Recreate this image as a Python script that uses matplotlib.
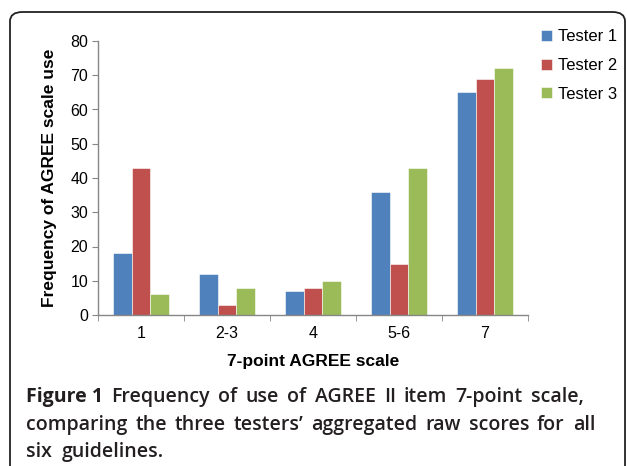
import matplotlib
matplotlib.use("Agg")
import matplotlib.pyplot as plt
import numpy as np
from matplotlib.patches import FancyBboxPatch

categories = ["1", "2-3", "4", "5-6", "7"]
tester1 = [18, 12, 7, 36, 65]
tester2 = [43, 3, 8, 15, 69]
tester3 = [6, 8, 10, 43, 72]
series_names = ["Tester 1", "Tester 2", "Tester 3"]
colors = ["#4F81BD", "#C0504D", "#9BBB59"]

caption_lines = [
    [("Figure 1", "bold"), ("Frequency", "normal"), ("of", "normal"), ("use", "normal"),
     ("of", "normal"), ("AGREE", "normal"), ("II", "normal"), ("item", "normal"),
     ("7-point", "normal"), ("scale,", "normal")],
    [("comparing", "normal"), ("the", "normal"), ("three", "normal"), ("testers\u2019", "normal"),
     ("aggregated", "normal"), ("raw", "normal"), ("scores", "normal"), ("for", "normal"),
     ("all", "normal")],
    [("six", "normal"), ("guidelines.", "normal")],
]

W, H = 627, 466
fig = plt.figure(figsize=(W / 100, H / 100), dpi=100)
plt.rcParams["font.family"] = ["Liberation Sans", "DejaVu Sans"]

# rounded frame around figure
frame = FancyBboxPatch((10 / W, -0.2), 615 / W, 1.2 - 12 / H,
                       boxstyle="round,pad=0,rounding_size=0.02",
                       transform=fig.transFigure, fill=False,
                       edgecolor="#222222", linewidth=1.3)
fig.patches.append(frame)

ax = fig.add_axes([98 / W, 1 - 315 / H, 430 / W, 274 / H])
x = np.arange(len(categories))
bw = 0.22
for i, (vals, name, c) in enumerate(zip([tester1, tester2, tester3], series_names, colors)):
    ax.bar(x + (i - 1) * bw, vals, bw, color=c, label=name,
           edgecolor="white", linewidth=0.4)

ax.set_xlim(-0.5, len(categories) - 0.5)
ax.set_ylim(0, 80)
ax.set_yticks(range(0, 81, 10))
ax.set_xticks(x)
ax.set_xticklabels(categories)
ax.set_xticks(np.arange(-0.5, len(categories), 1), minor=True)
ax.tick_params(axis="x", which="major", length=0, labelsize=11.5, pad=8)
ax.tick_params(axis="x", which="minor", length=4, color="#868686", direction="out")
ax.tick_params(axis="y", length=4, color="#868686", labelsize=11.5, pad=3)
for s in ["top", "right"]:
    ax.spines[s].set_visible(False)
for s in ["left", "bottom"]:
    ax.spines[s].set_color("#868686")
    ax.spines[s].set_linewidth(1.0)

ax.set_ylabel("Frequency of AGREE scale use", fontsize=12.5, fontweight="bold", labelpad=10)
ax.set_xlabel("7-point AGREE scale", fontsize=12.5, fontweight="bold", labelpad=9)

ax.legend(loc="upper left", bbox_to_anchor=(533 / W, 1 - 21 / H),
          bbox_transform=fig.transFigure, frameon=False, fontsize=12,
          handlelength=0.62, handleheight=0.62, handletextpad=0.35,
          labelspacing=0.82, borderpad=0)

# justified caption
fig.canvas.draw()
renderer = fig.canvas.get_renderer()
cap_font = ["Open Sans", "DejaVu Sans"]
cap_size = 14
x0 = 26
line_ends = [584, 595, None]
line_base = [402, 430, 457]
for words, x_end, yb in zip(caption_lines, line_ends, line_base):
    texts = []
    widths = []
    for w, weight in words:
        t = fig.text(0, 0, w, fontsize=cap_size,
                     fontweight="bold" if weight == "bold" else 600,
                     family=cap_font, color="#231F20", va="baseline", ha="left")
        bb = t.get_window_extent(renderer)
        texts.append(t)
        widths.append(bb.width)
    if x_end is None:
        gap = 10.0
    else:
        gap = (x_end - x0 - sum(widths)) / (len(words) - 1)
    xp = x0
    for t, wd in zip(texts, widths):
        t.set_position((xp / W, 1 - yb / H))
        xp += wd + gap

fig.savefig("out.png", dpi=100)
